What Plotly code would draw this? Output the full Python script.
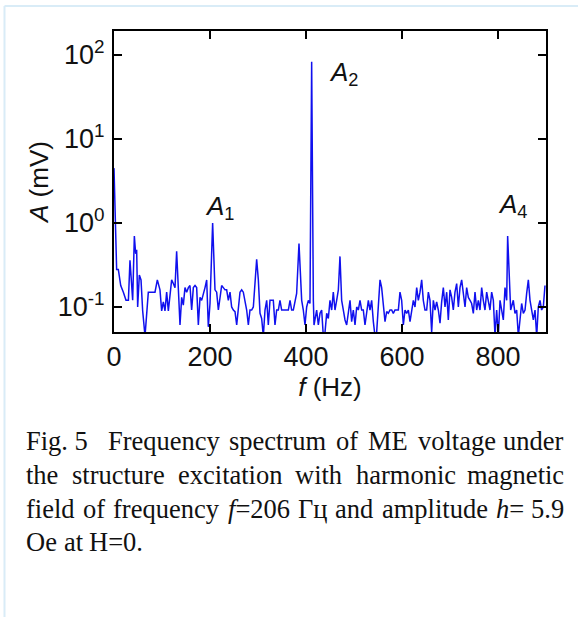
import math
import plotly.graph_objects as go

# ---------------- data ----------------
freq_hz = [
    0, 5.5, 9, 14, 19.5, 25, 30, 33.3, 38.9, 42.4, 45.1, 47.2, 49.3, 52.8, 56.3, 59.7,
    64.6, 71.5, 78.5, 85.4, 90.3, 95.8, 99.3, 102.8, 106.2, 109.7, 113.2, 116.7, 120.1,
    123.6, 127.1, 130.5, 134, 137.5, 141, 144.4, 147.9, 151.4, 154.9, 158.3, 161.8,
    165.3, 168.8, 172.2, 175.7, 179.2, 182.6, 186.1, 189.6, 193.1, 196.5, 200, 205.5,
    210.4, 213.9, 217.4, 220.8, 224.3, 227.8, 231.3, 234.7, 238.2, 241.7, 245.1, 248.6,
    252.1, 255.6, 259, 262.5, 266, 269.4, 276.4, 279.9, 283.3, 286.8, 290.3, 297.2,
    300.7, 304.2, 307.6, 311.1, 314.6, 318.1, 321.5, 325, 328.5, 331.9, 335.4, 338.9,
    342.4, 345.8, 349.3, 352.8, 356.3, 359.7, 363.2, 366.7, 370.1, 373.6, 380.5, 385.4,
    391, 394.4, 397.9, 401.4, 404.9, 408.3, 411.8, 415.3, 416.7, 422.2, 425.7, 429.2,
    432.6, 436.1, 439.6, 443.1, 446.5, 450, 453.5, 456.9, 460.4, 463.9, 467.4, 470.8,
    474.3, 477.8, 481.3, 484.7, 488.2, 491.7, 495.1, 498.6, 502.1, 505.6, 509, 512.5,
    516, 519.4, 522.9, 526.4, 529.9, 533.3, 536.8, 540.3, 543.7, 547.2, 550.7, 554.2,
    557.6, 561.1, 564.6, 568.1, 571.5, 575, 578.5, 581.9, 585.4, 588.9, 592.4, 595.8,
    599.3, 602.8, 606.3, 609.7, 613.2, 616.7, 620.1, 623.6, 627.1, 630.6, 634, 637.5,
    641, 644.4, 647.9, 651.4, 654.9, 658.3, 661.8, 665.3, 668.8, 672.2, 675.7, 679.2,
    682.6, 686.1, 689.6, 693.1, 696.5, 700, 703.5, 706.9, 710.4, 713.9, 717.4, 720.8,
    724.3, 727.8, 731.3, 734.7, 738.2, 741.7, 745.1, 748.6, 752.1, 755.6, 759, 762.5,
    766, 769.4, 772.9, 776.4, 779.9, 783.3, 786.8, 790.3, 793.8, 797.2, 800.7, 804.2,
    807.6, 811.1, 814.6, 818.1, 820.1, 823.6, 826.4, 831.9, 835.4, 838.9, 842.4, 845.8,
    849.3, 852.8, 856.3, 859.7, 863.2, 866.7, 870.1, 873.6, 877.1, 880.6, 884, 887.5,
    890.9, 894.4, 897.9,
]
amp_mv = [
    4.5, 0.28, 0.28, 0.18, 0.15, 0.12, 0.12, 0.36, 0.12, 0.70, 0.43, 0.48, 0.10, 0.24, 0.21, 0.09,
    0.045, 0.15, 0.15, 0.15, 0.21, 0.16, 0.09, 0.115, 0.09, 0.15, 0.09, 0.15, 0.21,
    0.19, 0.17, 0.46, 0.17, 0.061, 0.13, 0.105, 0.17, 0.15, 0.17, 0.18, 0.092,
    0.17, 0.18, 0.17, 0.061, 0.13, 0.12, 0.14, 0.17, 0.21, 0.058, 0.11, 1.0,
    0.16, 0.15, 0.092, 0.13, 0.18, 0.17, 0.16, 0.16, 0.12, 0.15, 0.10, 0.092,
    0.088, 0.061, 0.105, 0.15, 0.16, 0.15, 0.092, 0.061, 0.092, 0.092, 0.10, 0.37,
    0.21, 0.084, 0.073, 0.045, 0.092, 0.12, 0.061, 0.12, 0.12, 0.12, 0.061, 0.092,
    0.092, 0.12, 0.092, 0.092, 0.092, 0.092, 0.092, 0.12, 0.092, 0.092, 0.145, 0.57,
    0.12, 0.092, 0.061, 0.10, 0.12, 0.11, 83.0, 0.12, 0.061, 0.092, 0.061, 0.084,
    0.092, 0.045, 0.05, 0.084, 0.073, 0.12, 0.092, 0.15, 0.092, 0.12, 0.16, 0.40,
    0.12, 0.092, 0.07, 0.061, 0.092, 0.12, 0.067, 0.092, 0.061, 0.10, 0.092, 0.12,
    0.092, 0.092, 0.061, 0.092, 0.12, 0.092, 0.12, 0.067, 0.045, 0.05, 0.10, 0.21,
    0.17, 0.105, 0.067, 0.088, 0.084, 0.092, 0.092, 0.084, 0.092, 0.092, 0.092, 0.15,
    0.12, 0.061, 0.092, 0.084, 0.092, 0.067, 0.092, 0.12, 0.10, 0.17, 0.12, 0.15,
    0.21, 0.12, 0.092, 0.092, 0.15, 0.12, 0.05, 0.12, 0.092, 0.115, 0.092, 0.064,
    0.115, 0.17, 0.10, 0.15, 0.07, 0.16, 0.13, 0.092, 0.15, 0.19, 0.10, 0.17,
    0.21, 0.15, 0.10, 0.17, 0.13, 0.12, 0.11, 0.084, 0.15, 0.092, 0.12, 0.092,
    0.17, 0.12, 0.092, 0.15, 0.12, 0.092, 0.15, 0.12, 0.045, 0.092, 0.045, 0.12,
    0.092, 0.07, 0.17, 0.12, 0.70, 0.17, 0.092, 0.12, 0.084, 0.092, 0.045, 0.07,
    0.11, 0.084, 0.092, 0.145, 0.21, 0.12, 0.092, 0.07, 0.092, 0.045, 0.10, 0.12,
    0.092, 0.10, 0.18,
]

x_tick_vals = [0, 200, 400, 600, 800]
x_tick_text = ["0", "200", "400", "600", "800"]
y_tick_vals = [0.1, 1, 10, 100]
y_tick_text = ["10<sup>-1</sup>", "10<sup>0</sup>", "10<sup>1</sup>", "10<sup>2</sup>"]

peak_labels = ["<i>A</i><sub>1</sub>", "<i>A</i><sub>2</sub>", "<i>A</i><sub>4</sub>"]

caption_lines = [
    [[("Fig.\u00a05", False)], [("Frequency", False)], [("spectrum", False)], [("of", False)],
     [("ME", False)], [("voltage", False)], [("under", False)]],
    [[("the", False)], [("structure", False)], [("excitation", False)], [("with", False)],
     [("harmonic", False)], [("magnetic", False)]],
    [[("field", False)], [("of", False)], [("frequency", False)], [("f", True), ("=206", False)],
     [("Гц", False)], [("and", False)], [("amplitude", False)], [("h", True), ("=", False)],
     [("5.9", False)]],
    [[("Oe", False)], [("at", False)], [("H=0.", False)]],
]
caption_gap_weights = [[2, 1, 1, 1, 1, 1], None, None, None]
caption_justify = [True, True, True, False]

# ---------------- layout geometry ----------------
W, H = 578, 617
PL, PR, PT, PB = 114, 546, 31, 332

def px(xp):
    return xp / W

def py(yp):
    return 1 - yp / H

AX_FONT = "Liberation Sans, Arial, sans-serif"
SERIF = "Liberation Serif, Times New Roman, serif"

fig = go.Figure()
fig.add_trace(go.Scatter(
    x=freq_hz, y=amp_mv, mode="lines",
    line=dict(color="#1010ee", width=1.5),
    showlegend=False, hoverinfo="skip",
))

axis_common = dict(
    showline=True, linecolor="black", linewidth=2, mirror="allticks",
    ticks="inside", ticklen=8, tickwidth=2, tickcolor="black",
    showgrid=False, zeroline=False, automargin=False,
    tickfont=dict(family=AX_FONT, size=27, color="#111"),
)

fig.update_layout(
    width=W, height=H,
    margin=dict(l=0, r=0, t=0, b=0),
    paper_bgcolor="white", plot_bgcolor="white",
    xaxis=dict(
        **axis_common, range=[0, 900], domain=[px(PL), px(PR)],
        tickvals=x_tick_vals, ticktext=x_tick_text, ticklabelstandoff=0,
        title=dict(text="<i>f</i> (Hz)", font=dict(family=AX_FONT, size=26, color="#111"),
                   standoff=0),
    ),
    yaxis=dict(
        **axis_common, type="log", range=[-1.298, 2.286], domain=[py(PB), py(PT)],
        tickvals=y_tick_vals, ticktext=y_tick_text, ticklabelstandoff=2,
        title=dict(text="<i>A</i> (mV)", font=dict(family=AX_FONT, size=26, color="#111"),
                   standoff=2),
    ),
)

# peak labels (data coordinates, log10 for y)
label_pos = [(185.4, 0.179), (443.7, 1.78), (795.8, 0.208)]
for txt, (lx, ly) in zip(peak_labels, label_pos):
    fig.add_annotation(x=lx, y=ly, xref="x", yref="y", text=txt, showarrow=False,
                       xanchor="left", yanchor="middle",
                       font=dict(family=AX_FONT, size=26, color="#111"))

# light blue frame
frame_col = "#d9ecf7"
fig.add_shape(type="line", xref="paper", yref="paper", x0=px(4.5), x1=1, y0=py(6), y1=py(6),
              line=dict(color=frame_col, width=2))
fig.add_shape(type="line", xref="paper", yref="paper", x0=px(4.5), x1=px(4.5), y0=py(6), y1=0,
              line=dict(color=frame_col, width=2))

# caption, justified word by word using Times metrics
TIMES = {' ': 250, 'a': 444, 'b': 500, 'c': 444, 'd': 500, 'e': 444, 'f': 333, 'g': 500,
         'h': 500, 'i': 278, 'j': 278, 'k': 500, 'l': 278, 'm': 778, 'n': 500, 'o': 500,
         'p': 500, 'q': 500, 'r': 333, 's': 389, 't': 278, 'u': 500, 'v': 500, 'w': 722,
         'x': 500, 'y': 500, 'z': 444, 'F': 556, 'M': 889, 'E': 611, 'H': 722, 'O': 722,
         '.': 250, '=': 564, 'Г': 578, 'ц': 510, '\u00a0': 250}
for d in "0123456789":
    TIMES[d] = 500
TIMES_I = {'f': 278, 'h': 500}

CAP_SIZE = 26.5
CAP_LEFT, CAP_RIGHT = 25, 565
cap_baselines = [450, 484, 518, 551]

def seg_width(text, italic):
    tab = TIMES_I if italic else TIMES
    return sum(tab.get(ch, TIMES.get(ch, 500)) for ch in text) / 1000 * CAP_SIZE

def word_markup(word):
    out = ""
    for t, it in word:
        out += f"<i>{t}</i>" if it else t
    return out

for li, words in enumerate(caption_lines):
    widths = [sum(seg_width(t, it) for t, it in w) for w in words]
    weights = caption_gap_weights[li] or [1] * (len(words) - 1)
    if caption_justify[li]:
        unit = (CAP_RIGHT - CAP_LEFT - sum(widths)) / sum(weights)
    else:
        unit = 0.25 * CAP_SIZE
    yc = cap_baselines[li] - 0.3375 * CAP_SIZE
    xcur = CAP_LEFT
    for wi, w in enumerate(words):
        last = caption_justify[li] and wi == len(words) - 1
        fig.add_annotation(
            x=px(CAP_RIGHT if last else xcur), y=py(yc), xref="paper", yref="paper",
            text=word_markup(w), showarrow=False,
            xanchor="right" if last else "left", yanchor="middle", borderpad=0,
            font=dict(family=SERIF, size=CAP_SIZE, color="#111"),
        )
        xcur += widths[wi]
        if wi < len(weights):
            xcur += unit * weights[wi]

fig.write_html("out.html")
